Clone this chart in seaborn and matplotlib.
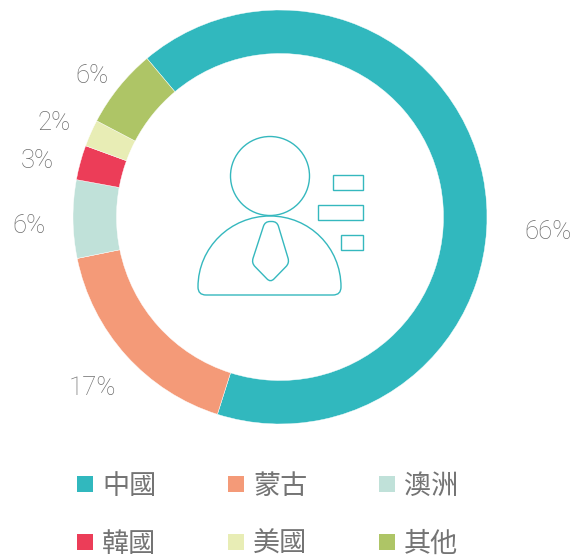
import matplotlib
matplotlib.use('Agg')
import matplotlib.pyplot as plt
import seaborn as sns
from matplotlib.patches import Circle, PathPatch, Rectangle
from matplotlib.path import Path

categories = ['中國', '蒙古', '澳洲', '韓國', '美國', '其他']
shares = [66, 16.9, 6.1, 2.7, 2.1, 6.2]
share_labels = ['66%', '17%', '6%', '3%', '2%', '6%']
hex_colors = ['#31B8BE', '#F49A78', '#C0E1D9', '#EC3D58', '#E8EDB5', '#AEC566']

WIDTH, HEIGHT = 579, 557
ICON = '#35B8BE'

sns.set_theme(style='white')
plt.rcParams['font.family'] = ['Noto Sans CJK TC', 'DejaVu Sans']


def flip(points):
    # picture pixels have y going down
    return [(x, HEIGHT - y) for x, y in points]


def rounded_shape(corners, r):
    # closed outline through the corners, each corner rounded off
    verts, codes = [], []
    n = len(corners)
    for i in range(n):
        px, py = corners[i - 1]
        cx, cy = corners[i]
        nx, ny = corners[(i + 1) % n]
        d1 = ((px - cx) ** 2 + (py - cy) ** 2) ** 0.5
        d2 = ((nx - cx) ** 2 + (ny - cy) ** 2) ** 0.5
        a = (cx + (px - cx) * r / d1, cy + (py - cy) * r / d1)
        b = (cx + (nx - cx) * r / d2, cy + (ny - cy) * r / d2)
        verts += [a, (cx, cy), b]
        codes += [Path.MOVETO if i == 0 else Path.LINETO, Path.CURVE3, Path.CURVE3]
    verts.append(verts[0])
    codes.append(Path.CLOSEPOLY)
    return Path(flip(verts), codes)


def draw_icon(ax):
    line = dict(fill=False, edgecolor=ICON, linewidth=1.0)
    ax.add_patch(Circle((270, HEIGHT - 176), 39.5, **line))

    # shoulders
    k = 0.5523 * 71.5
    verts = [(198, 287), (198, 287 - k), (270 - k, 216), (270, 216),
             (270 + k, 216), (341, 287 - k), (341, 287),
             (341, 295), (333, 295), (206, 295), (198, 295), (198, 287), (198, 287)]
    codes = [Path.MOVETO, Path.CURVE4, Path.CURVE4, Path.CURVE4,
             Path.CURVE4, Path.CURVE4, Path.CURVE4,
             Path.CURVE3, Path.CURVE3, Path.LINETO, Path.CURVE3, Path.CURVE3,
             Path.CLOSEPOLY]
    ax.add_patch(PathPatch(Path(flip(verts), codes), **line))

    # tie
    tie = [(265, 221.5), (277, 221.5), (289.5, 263), (270.5, 282.5), (251.5, 263)]
    ax.add_patch(PathPatch(rounded_shape(tie, 5), **line))

    # the three bars on the right
    for left, top, bottom in [(333.2, 174.5, 189.5), (318.2, 204.5, 219.5), (340.6, 234.5, 249.5)]:
        ax.add_patch(Rectangle((left, HEIGHT - bottom), 363.3 - left, bottom - top, **line))


fig = plt.figure(figsize=(WIDTH / 100, HEIGHT / 100), dpi=100)
ax = fig.add_axes([0, 0, 1, 1])

colors = sns.color_palette(hex_colors)
ax.pie(
    shares,
    colors=colors,
    startangle=130,
    counterclock=False,
    center=(280, HEIGHT - 217),
    radius=207,
    frame=True,
    wedgeprops=dict(width=43.5, edgecolor='white', linewidth=0.3))
ax.set_xlim(0, WIDTH)
ax.set_ylim(0, HEIGHT)
ax.set_aspect('equal')
ax.axis('off')

draw_icon(ax)

label_pos = [(548, 232), (92, 388), (29, 226), (37, 161), (54, 123), (92, 76)]
for text, (x, y) in zip(share_labels, label_pos):
    ax.text(x, HEIGHT - y, text, ha='center', va='center', fontsize=18.5,
            color='#6E6E6E', family='Roboto', weight='light')

legend_x = [77, 228, 379]
legend_y = [484, 542]
for i, (name, color) in enumerate(zip(categories, colors)):
    x = legend_x[i % 3]
    y = legend_y[i // 3]
    ax.add_patch(Rectangle((x, HEIGHT - y - 8), 16, 16, facecolor=color, edgecolor='none'))
    ax.text(x + 25, HEIGHT - y - 2.5, name, ha='left', va='center', fontsize=19.5,
            color='#747474', weight='light')

fig.savefig('out.png', dpi=100)
plt.close(fig)
